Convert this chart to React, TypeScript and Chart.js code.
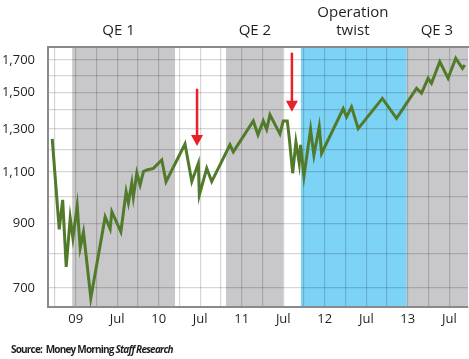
import React, { useEffect, useRef } from "react";
import { Chart, registerables } from "chart.js";

Chart.register(...registerables);

// x = months since Jan 2009 (negative = late 2008), y = index level
const months = [
  -3.39, -2.38, -1.88, -1.37, -0.79, -0.4, 0.22, 0.65, 1.13, 2.19,
  4.26, 4.98, 5.23, 6.53, 7.29, 7.62, 8.11, 8.34, 8.84, 9.31,
  9.79, 10.28, 11.23, 12.44, 13.06, 15.8, 16.78, 17.73, 17.87, 18.94,
  19.66, 22.3, 22.78, 25.67, 26.35, 27.11, 27.6, 28.08, 29.52, 30.0,
  30.58, 30.87, 31.36, 31.83, 32.31, 32.51, 32.99, 33.95, 34.43, 35.2,
  35.54, 38.66, 39.15, 39.87, 40.83, 44.32, 46.37, 49.26, 49.98, 50.93,
  51.42, 52.62, 53.82, 54.93, 55.9, 56.23,
];
const values = [
  1250, 879, 986, 760, 919, 850, 963, 818, 870, 673,
  923, 881, 942, 871, 1018, 975, 1053, 998, 1095, 1045,
  1101, 1108, 1115, 1152, 1059, 1226, 1059, 1137, 1005, 1115,
  1059, 1222, 1189, 1341, 1270, 1341, 1298, 1373, 1275, 1341,
  1341, 1254, 1094, 1236, 1137, 1222, 1080, 1298, 1174, 1311,
  1182, 1406, 1362, 1416, 1301, 1464, 1355, 1522, 1494, 1583,
  1553, 1689, 1583, 1711, 1646, 1667,
];

const yGridValues = [700, 800, 900, 1000, 1100, 1200, 1300, 1400, 1500, 1600, 1700];
const yLabelValues = [700, 900, 1100, 1300, 1500, 1700];
const xGridMonths = [-3, 0, 3, 6, 9, 12, 15, 18, 21, 24, 27, 30, 33, 36, 39, 42, 45, 48, 51, 54];
const xLabelMonths = [0, 6, 12, 18, 24, 30, 36, 42, 48, 54];
const xLabelText = ["09", "Jul", "10", "Jul", "11", "Jul", "12", "Jul", "13", "Jul"];

// policy periods (months since Jan 2009)
const periodStart = [-0.5, 21.73, 32.55, 47.86];
const periodEnd = [14.36, 29.96, 47.86, 56.7];
const periodKind = ["qe", "qe", "twist", "qe"];
const periodLabels = ["QE 1", "QE 2", "Operation\ntwist", "QE 3"];
const periodLabelMonths = [6.2, 25.9, 40.06, 52.2];

// red arrows
const arrowMonths = [17.54, 31.25];
const arrowFrom = [1520, 1749];
const arrowTo = [1216, 1390];

const COLORS = {
  qe: "#c8c8ca",
  twist: "#7dd3f5",
  line: "#527a2b",
  grid: "rgba(0,0,0,0.16)",
  axis: "#8a8a8a",
  text: "#231f20",
  arrow: "#e8202a",
};
const FONT = "'Open Sans', 'DejaVu Sans', sans-serif";

const backdrop = {
  id: "backdrop",
  beforeDraw(chart: any) {
    const { ctx, chartArea, scales } = chart;
    ctx.save();
    ctx.fillStyle = "#ffffff";
    ctx.fillRect(0, 0, chart.width, chart.height);
    for (let i = 0; i < periodStart.length; i++) {
      const x0 = Math.max(chartArea.left, scales.x.getPixelForValue(periodStart[i]));
      const x1 = Math.min(chartArea.right, scales.x.getPixelForValue(periodEnd[i]));
      ctx.fillStyle = (COLORS as any)[periodKind[i]];
      ctx.fillRect(x0, chartArea.top, x1 - x0, chartArea.bottom - chartArea.top);
    }
    ctx.fillStyle = COLORS.text;
    ctx.font = `15px ${FONT}`;
    ctx.textAlign = "center";
    ctx.textBaseline = "middle";
    for (let i = 0; i < periodLabels.length; i++) {
      const lines = periodLabels[i].split("\n");
      const x = scales.x.getPixelForValue(periodLabelMonths[i]);
      for (let j = 0; j < lines.length; j++) {
        const y = 31 - (lines.length - 1 - j) * 18;
        ctx.fillText(lines[j], x, y);
      }
    }
    ctx.restore();
  },
  afterDraw(chart: any) {
    const { ctx, chartArea, scales } = chart;
    ctx.save();
    ctx.strokeStyle = COLORS.axis;
    ctx.lineWidth = 2;
    ctx.beginPath();
    ctx.moveTo(chartArea.left, chartArea.top);
    ctx.lineTo(chartArea.right + 1, chartArea.top);
    ctx.stroke();
    for (let i = 0; i < arrowMonths.length; i++) {
      const x = scales.x.getPixelForValue(arrowMonths[i]);
      const yTop = scales.y.getPixelForValue(arrowFrom[i]);
      const yTip = scales.y.getPixelForValue(arrowTo[i]);
      ctx.strokeStyle = COLORS.arrow;
      ctx.fillStyle = COLORS.arrow;
      ctx.lineWidth = 2.5;
      ctx.beginPath();
      ctx.moveTo(x, yTop);
      ctx.lineTo(x, yTip - 8);
      ctx.stroke();
      ctx.beginPath();
      ctx.moveTo(x - 6, yTip - 11);
      ctx.lineTo(x + 6, yTip - 11);
      ctx.lineTo(x, yTip);
      ctx.closePath();
      ctx.fill();
    }
    ctx.restore();
  },
};

export default function App() {
  const ref = useRef<HTMLCanvasElement | null>(null);
  useEffect(() => {
    if (!ref.current) return;
    const data = months.map((m, i) => ({ x: m, y: values[i] }));
    const chart = new Chart(ref.current, {
      type: "line",
      data: {
        datasets: [
          {
            data,
            borderColor: COLORS.line,
            borderWidth: 3,
            pointRadius: 0,
            tension: 0,
            fill: false,
          },
        ],
      },
      options: {
        animation: false,
        responsive: false,
        devicePixelRatio: 1,
        layout: { padding: { top: 47, left: 0, right: 1, bottom: 0 } },
        plugins: { legend: { display: false }, tooltip: { enabled: false } },
        scales: {
          x: {
            type: "linear",
            min: -4,
            max: 56.7,
            afterBuildTicks: (s: any) => {
              s.ticks = xGridMonths.map((v) => ({ value: v }));
            },
            afterFit: (s: any) => {
              s.height = 52;
            },
            grid: { color: COLORS.grid, lineWidth: 1.2, drawTicks: false },
            border: { display: true, color: COLORS.axis, width: 2 },
            ticks: {
              padding: 4,
              autoSkip: false,
              maxRotation: 0,
              color: COLORS.text,
              font: { family: FONT, size: 13 },
              callback: (v: any) => {
                const i = xLabelMonths.indexOf(Number(v));
                return i >= 0 ? xLabelText[i] : "";
              },
            },
          },
          y: {
            type: "logarithmic",
            min: 650,
            max: 1788,
            afterBuildTicks: (s: any) => {
              s.ticks = yGridValues.map((v) => ({ value: v }));
            },
            afterFit: (s: any) => {
              s.width = 48;
            },
            grid: { color: COLORS.grid, lineWidth: 1.2, drawTicks: false },
            border: { display: true, color: COLORS.axis, width: 2 },
            ticks: {
              padding: 13,
              autoSkip: false,
              color: COLORS.text,
              font: { family: FONT, size: 13 },
              callback: (v: any) =>
                yLabelValues.includes(Number(v)) ? Number(v).toLocaleString("en-US") : "",
            },
          },
        },
      },
      plugins: [backdrop],
    } as any);
    return () => chart.destroy();
  }, []);

  return (
    <div style={{ position: "absolute", left: 0, top: 0, width: 469, height: 359, background: "#fff" }}>
      <canvas ref={ref} width={469} height={359} style={{ display: "block" }} />
      <div
        style={{
          position: "absolute",
          left: 11,
          top: 343,
          fontFamily: FONT,
          fontWeight: 700,
          fontSize: 10,
          letterSpacing: "-0.8px",
          color: COLORS.text,
          whiteSpace: "nowrap",
          lineHeight: "13px",
        }}
      >
        Source:&nbsp;&nbsp;Money Morning <i>Staff Research</i>
      </div>
    </div>
  );
}
